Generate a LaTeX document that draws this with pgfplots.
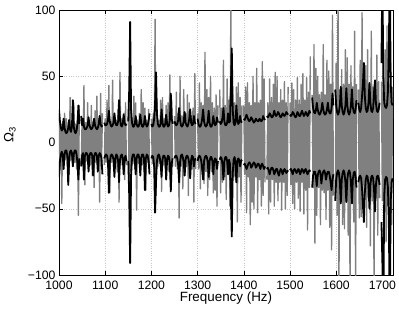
\documentclass[border=0pt]{standalone}
\usepackage{fontspec}
\setmainfont{Liberation Sans}
\usepackage{pgfplots}
\usepackage{pgfplotstable}
\pgfplotsset{compat=1.18}
\definecolor{siggray}{RGB}{128,128,128}

% x = frequency, g = raw signal (gray), u/l = upper/lower envelope (black)
\pgfplotstableread{
x g u l
1000 22 25 -26
1002 -20 16 -14
1004 14 11 -9
1006 -46 9 -7
1008 16 10 -9
1010 -15 18 -20
1012 22 11 -9
1014 -13 8 -6
1016 18 7 -6
1018 -16 8 -10
1020 15 11 -32
1022 -24 17 -12
1024 34 10 -7
1026 -14 8 -6
1028 16 12 -8
1030 -18 32 -18
1032 30 12 -9
1034 -15 8 -6
1036 14 7 -6
1038 -20 9 -9
1040 18 14 -16
1042 -55 28 -28
1044 28 14 -12
1046 nan nan nan
1048 -18 20 -18
1050 16 13 -10
1052 -15 18 -8
1054 43 12 -28
1056 -32 10 -10
1058 15 10 -8
1060 -14 11 -8
1062 30 13 -10
1064 -16 19 -22
1066 14 13 -10
1068 -17 11 -8
1070 28 10 -8
1072 -25 11 -10
1074 16 13 -25
1076 -34 18 -11
1078 24 13 -8
1080 -15 11 -8
1082 35 10 -10
1084 -16 11 -22
1086 18 14 -10
1088 -45 20 -8
1090 37 14 -9
1092 -18 12 -12
1094 22 13 -24
1096 nan nan nan
1098 -17 15 -12
1100 18 13 -10
1102 -15 13 -9
1104 32 14 -10
1106 -20 17 -14
1108 43 24 -38
1110 -38 16 -15
1112 16 13 -10
1114 -15 12 -9
1116 47 13 -10
1118 -18 15 -13
1120 20 22 -26
1122 -16 15 -12
1124 17 13 -9
1126 -22 13 -10
1128 25 16 -14
1130 -45 32 -30
1132 53 18 -13
1134 -17 13 -10
1136 18 12 -9
1138 -16 14 -12
1140 22 21 -24
1142 -28 15 -12
1144 30 13 -10
1146 -17 14 -14
1148 nan nan nan
1150 20 16 -14
1152 -30 40 -40
1154 40 91 -91
1156 -22 25 -25
1158 18 15 -12
1160 -16 12 -9
1162 35 12 -9
1164 -20 14 -12
1166 30 20 -24
1168 -51 14 -12
1170 17 12 -9
1172 -16 12 -9
1174 22 14 -12
1176 -18 21 -25
1178 40 15 -12
1180 -17 12 -9
1182 30 12 -9
1184 -20 14 -12
1186 26 20 -36
1188 -36 14 -12
1190 17 12 -9
1192 -15 13 -10
1194 25 16 -14
1196 -20 22 -24
1198 nan nan nan
1200 18 14 -12
1202 -16 12 -10
1204 22 13 -11
1206 -20 18 -18
1208 93 30 -53
1210 -40 53 -30
1212 30 22 -14
1214 -18 14 -10
1216 17 12 -9
1218 -16 12 -11
1220 32 14 -16
1222 -37 25 -26
1224 34 15 -13
1226 -17 12 -10
1228 18 12 -10
1230 -20 14 -12
1232 28 21 -28
1234 -16 14 -13
1236 30 12 -10
1238 -22 13 -11
1240 51 17 -16
1242 -35 37 -37
1244 32 18 -16
1246 -18 14 -12
1248 nan nan nan
1250 20 16 -12
1252 -18 14 -10
1254 38 13 -10
1256 -20 14 -12
1258 22 17 -17
1260 -57 26 -30
1262 50 17 -15
1264 -18 13 -10
1266 20 12 -9
1268 -35 13 -11
1270 40 16 -15
1272 -25 23 -25
1274 22 15 -13
1276 -18 13 -10
1278 36 12 -10
1280 -40 14 -12
1282 30 18 -16
1284 -27 25 -27
1286 20 15 -13
1288 -20 13 -10
1290 26 14 -11
1292 -45 20 -18
1294 52 15 -13
1296 -20 14 -12
1298 nan nan nan
1300 22 18 -14
1302 -20 14 -11
1304 45 12 -10
1306 -35 12 -11
1308 30 14 -14
1310 -24 18 -20
1312 28 25 -28
1314 -31 16 -14
1316 68 13 -11
1318 -22 12 -10
1320 40 13 -11
1322 -40 16 -15
1324 34 24 -26
1326 -28 15 -14
1328 50 12 -11
1330 -22 12 -11
1332 30 14 -14
1334 -38 20 -24
1336 26 15 -14
1338 -36 13 -12
1340 36 14 -13
1342 -48 19 -20
1344 28 15 -14
1346 nan nan nan
1348 40 16 -13
1350 -38 14 -11
1352 26 15 -12
1354 -30 19 -17
1356 62 26 -28
1358 -26 16 -14
1360 28 13 -11
1362 -43 13 -11
1364 48 15 -14
1366 -24 22 -24
1368 32 15 -13
1370 -48 16 -16
1372 110 40 -40
1374 -45 71 -71
1376 36 25 -24
1378 -26 15 -13
1380 30 13 -11
1382 -28 15 -14
1384 42 28 -30
1386 -60 17 -15
1388 45 14 -12
1390 -26 15 -13
1392 34 20 -18
1394 -45 16 -14
1396 28 15 -13
1398 nan nan nan
1400 28 18 -17
1402 -24 17 -16
1404 42 19 -18
1406 -53 21 -20
1408 45 19 -18
1410 -26 17 -16
1412 30 16 -15
1414 -62 17 -16
1416 28 19 -19
1418 -45 18 -18
1420 50 16 -16
1422 -50 15 -15
1424 30 16 -16
1426 -26 18 -19
1428 56 17 -18
1430 -53 16 -16
1432 30 16 -16
1434 -28 18 -18
1436 32 17 -20
1438 -48 16 -17
1440 61 17 -16
1442 -40 20 -18
1444 48 18 -20
1446 -30 17 -18
1448 nan nan nan
1450 -28 20 -20
1452 30 19 -19
1454 -54 20 -21
1456 48 22 -24
1458 -45 21 -21
1460 34 19 -19
1462 -28 19 -19
1464 44 21 -21
1466 -48 24 -24
1468 53 21 -22
1470 -30 20 -20
1472 50 21 -20
1474 -44 23 -23
1476 30 22 -25
1478 -30 20 -22
1480 40 19 -20
1482 -51 20 -21
1484 32 22 -24
1486 -30 21 -22
1488 46 20 -20
1490 -50 21 -21
1492 30 23 -23
1494 -40 22 -22
1496 42 21 -21
1498 nan nan nan
1500 30 21 -21
1502 -32 20 -20
1504 45 21 -22
1506 -46 23 -24
1508 40 22 -21
1510 -50 20 -20
1512 32 19 -21
1514 -30 20 -23
1516 49 23 -22
1518 -42 22 -20
1520 32 20 -21
1522 -52 20 -24
1524 44 22 -22
1526 -30 24 -20
1528 52 22 -21
1530 -54 20 -23
1532 32 21 -21
1534 -36 23 -20
1536 49 22 -22
1538 -66 20 -24
1540 38 21 -22
1542 -34 24 -21
1544 65 22 -22
1546 nan nan nan
1548 36 34 -34
1550 -34 26 -25
1552 74 23 -22
1554 -76 22 -22
1556 56 24 -25
1558 -55 30 -33
1560 50 25 -25
1562 -34 22 -22
1564 36 21 -21
1566 -62 22 -23
1568 38 25 -31
1570 -36 30 -25
1572 74 25 -22
1574 -38 22 -21
1576 36 21 -23
1578 -58 22 -28
1580 62 25 -24
1582 -36 30 -22
1584 54 24 -22
1586 -64 22 -25
1588 44 22 -30
1590 -81 26 -36
1592 96 37 -28
1594 -40 28 -24
1596 nan nan nan
1598 -42 40 -44
1600 60 28 -28
1602 -55 23 -23
1604 110 21 -21
1606 -110 23 -23
1608 40 28 -30
1610 -44 42 -46
1612 55 28 -28
1614 -62 23 -23
1616 44 21 -21
1618 -65 23 -23
1620 70 28 -30
1622 -44 41 -45
1624 64 28 -28
1626 -70 23 -23
1628 44 21 -21
1630 -110 23 -23
1632 58 28 -30
1634 -44 40 -46
1636 42 27 -28
1638 -60 23 -23
1640 84 22 -22
1642 -110 25 -26
1644 44 32 -34
1646 nan nan nan
1648 40 30 -30
1650 -57 25 -26
1652 62 23 -25
1654 -56 26 -27
1656 98 35 -35
1658 -42 45 -48
1660 44 60 -60
1662 -40 35 -38
1664 58 26 -28
1666 -64 23 -25
1668 70 24 -26
1670 -42 30 -32
1672 44 45 -50
1674 -78 30 -32
1676 84 24 -26
1678 -44 23 -25
1680 42 26 -27
1682 -110 38 -36
1684 46 47 -52
1686 -42 30 -32
1688 66 24 -26
1690 -70 23 -25
1692 46 25 -27
1694 -42 30 -32
1696 nan nan nan
1698 46 60 -60
1700 -44 130 -90
1702 50 50 -130
1704 -68 30 -40
1706 70 27 -28
1708 -75 26 -26
1710 88 28 -27
1712 -48 38 -34
1714 44 70 -60
1716 -46 130 -130
1718 60 45 -45
1720 -62 30 -30
1722 42 28 -27
}\omegadata

\begin{document}
\begin{tikzpicture}
\begin{axis}[
    scale only axis,
    width=334pt, height=265pt,
    xmin=1000, xmax=1723,
    ymin=-100, ymax=100,
    xtick={1000,1100,1200,1300,1400,1500,1600,1700},
    xticklabels={1000,1100,1200,1300,1400,1500,1600,1700},
    ytick={-100,-50,0,50,100},
    yticklabels={−100,−50,0,50,100},
    tick align=inside,
    major tick length=4pt,
    tick style={black, line width=0.4pt},
    grid=major,
    grid style={dotted, gray!45, line width=0.5pt},
    axis line style={line width=0.5pt},
    unbounded coords=jump,
    ticklabel style={font=\fontsize{12.2}{14}\selectfont},
    xticklabel style={yshift=-2pt},
    label style={font=\fontsize{13.4}{15}\selectfont},
    xlabel={Frequency (Hz)},
    ylabel={Ω\textsubscript{3}},
    xlabel style={at={(axis description cs:0.5,-0.087)}, anchor=center},
    ylabel style={at={(axis description cs:-0.147,0.528)}, anchor=center},
]
\addplot[siggray, line width=1.35pt, line join=round] table[x=x, y=g] {\omegadata};
\addplot[black, line width=1.8pt, line join=round] table[x=x, y=u] {\omegadata};
\addplot[black, line width=1.8pt, line join=round] table[x=x, y=l] {\omegadata};
\end{axis}
\pgfresetboundingbox
\path (-59pt,-34pt) rectangle (340pt,275pt);
\end{tikzpicture}
\end{document}
